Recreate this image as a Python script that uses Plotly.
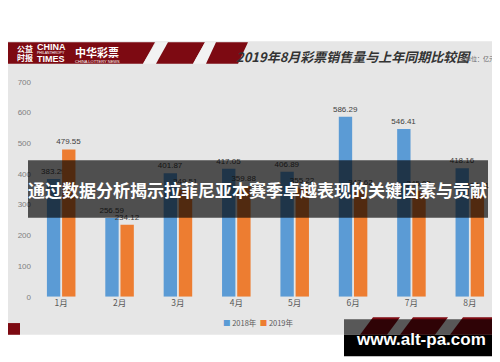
import plotly.graph_objects as go

months = ["1月", "2月", "3月", "4月", "5月", "6月", "7月", "8月"]
series_names = ["2018年", "2019年"]
sales_2018 = [383.29, 256.59, 401.87, 417.05, 406.89, 586.29, 546.41, 418.16]
sales_2019 = [479.55, 234.12, 349.51, 359.88, 355.22, 347.62, 345.05, 337.11]
y_ticks = [0, 100, 200, 300, 400, 500, 600, 700]
colors = ["#5b9bd5", "#ed7d31"]

W, H = 500, 362
def py(px):
    return 1 - px / H
def pxx(px):
    return px / W

fig = go.Figure()
for name, vals, c in zip(series_names, [sales_2018, sales_2019], colors):
    fig.add_trace(go.Bar(
        x=months, y=vals, name=name, marker_color=c, marker_line_width=0,
        text=[f"{v:.2f}" for v in vals], textposition="outside", constraintext="none",
        textfont=dict(size=8, color="#404040", family="Liberation Sans"),
        cliponaxis=False,
    ))

shapes = []
# gray chart background
shapes.append(dict(type="rect", xref="paper", yref="paper", x0=0, x1=1, y0=py(331), y1=py(30),
                   fillcolor="#e6e6e6", line_width=0, layer="below"))
red = "#7d0a12"
def poly(pts, color, layer="below", opacity=1):
    path = "M " + " L ".join(f"{pxx(x)},{py(y)}" for x, y in pts) + " Z"
    return dict(type="path", xref="paper", yref="paper", path=path, fillcolor=color,
                line_width=0, layer=layer, opacity=opacity)
# header band with stripes
shapes.append(poly([(0, 31), (147, 31), (135, 53), (0, 53)], red))
shapes.append(poly([(148, 31), (160, 31), (148, 53), (135, 53)], "#f2f2f2"))
shapes.append(poly([(160, 31), (197, 31), (185, 53), (148, 53)], red))
shapes.append(poly([(197, 31), (208, 31), (198, 53), (185, 53)], "#f2f2f2"))
shapes.append(poly([(208, 31), (240, 31), (230, 53), (198, 53)], red))
# top-right corner mark
shapes.append(poly([(488, 31), (500, 31), (500, 45), (488, 38)], "#a01822"))
# bottom-left block
shapes.append(poly([(0, 319), (12, 319), (12, 331), (0, 331)], red))
# bottom stripes
shapes.append(poly([(352, 331), (365, 313), (392, 313), (379, 331)], red))
shapes.append(poly([(392, 331), (405, 313), (440, 313), (427, 331)], red))
shapes.append(poly([(442, 331), (455, 313), (500, 313), (500, 331)], red))
# banner
shapes.append(dict(type="rect", xref="paper", yref="paper", x0=pxx(20), x1=pxx(480),
                   y0=py(211), y1=py(152), fillcolor="rgba(0,0,0,0.66)", line_width=0, layer="above"))
# watermark box
shapes.append(dict(type="rect", xref="paper", yref="paper", x0=pxx(336), x1=pxx(491),
                   y0=py(331), y1=py(315), fillcolor="rgba(0,0,0,0.62)", line_width=0, layer="above"))
shapes.append(dict(type="rect", xref="paper", yref="paper", x0=pxx(336), x1=pxx(491),
                   y0=py(353), y1=py(331), fillcolor="#000000", line_width=0, layer="above"))

cjk = "Noto Sans CJK SC"
ann = []
def text(x, y, s, size, color, family=cjk, xanchor="center", **kw):
    ann.append(dict(x=pxx(x), y=py(y), xref="paper", yref="paper", text=s, showarrow=False,
                    font=dict(size=size, color=color, family=family, **kw.pop("font", {})),
                    xanchor=xanchor, yanchor="middle", **kw))

text(345, 46, "<b>2019年8月彩票销售量与上年同期比较图</b>", 13, "#333333", font=dict(style="italic"))
text(472, 48, "(单位：亿元)", 6, "#666666")
# logos
text(17, 37, "<b>公益</b>", 8, "white")
text(17, 47, "<b>时报</b>", 8, "white")
text(43, 36, "<b>CHINA</b>", 9, "white", family="Liberation Sans")
text(43, 42, "PHILANTHROPY", 3.5, "white", family="Liberation Sans")
text(43, 48, "<b>TIMES</b>", 9, "white", family="Liberation Sans")
text(89, 41, "<b>中华彩票</b>", 11, "white")
text(89, 51, "CHINA LOTTERY NEWS", 4, "white", family="Liberation Sans")
# legend
leg = "  ".join(f'<span style="color:{c}">■</span> {n}' for n, c in zip(series_names, colors))
text(250, 318, leg, 7.5, "#595959")
# banner text
text(249, 182, "<b>通过数据分析揭示拉菲尼亚本赛季卓越表现的关键因素与贡献</b>", 17, "white")
# site watermark
text(413, 336, "<b>www.alt-pa.com</b>", 17, "white", family="Liberation Sans")

fig.update_layout(
    width=W, height=H, margin=dict(l=0, r=0, t=0, b=0),
    paper_bgcolor="white", plot_bgcolor="rgba(0,0,0,0)",
    barmode="group", bargap=0.48, bargroupgap=0.12, showlegend=False,
    shapes=shapes, annotations=ann,
    xaxis=dict(domain=[pxx(24), pxx(491)], showgrid=False, showline=False, zeroline=False,
               tickfont=dict(size=8.5, color="#595959", family=cjk), ticks=""),
    yaxis=dict(domain=[py(292), py(71.5)], range=[0, 700], tickvals=y_ticks,
               showgrid=False, showline=False, zeroline=False, ticks="",
               tickfont=dict(size=8, color="#808080", family="Liberation Sans")),
)
fig.write_html("out.html")
